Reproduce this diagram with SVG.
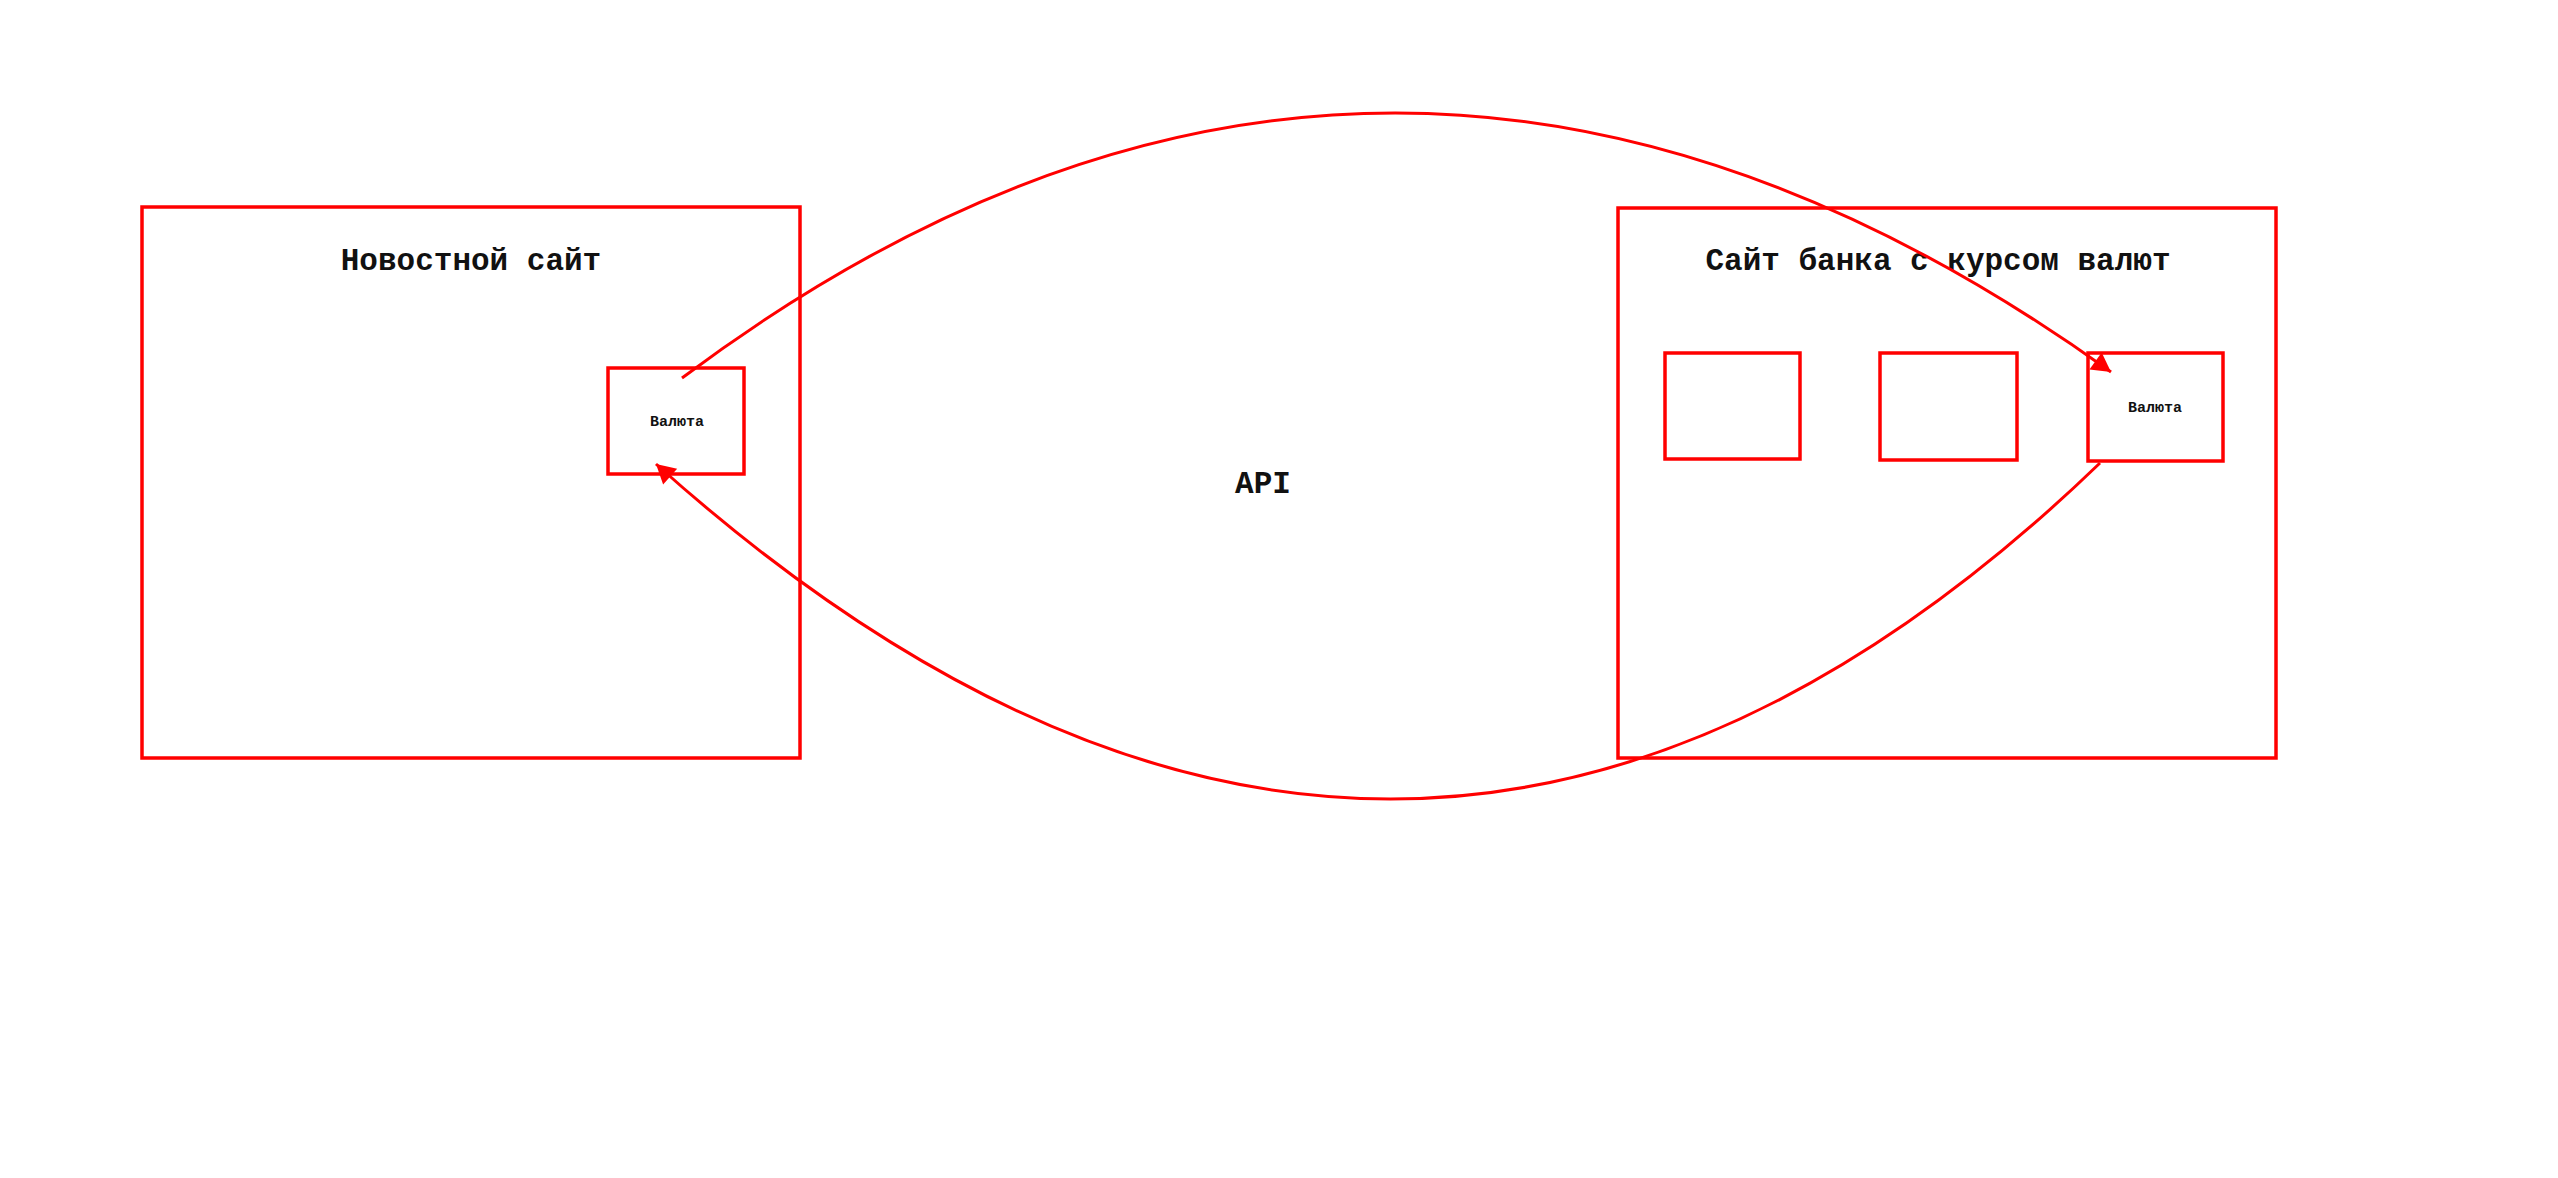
<svg xmlns="http://www.w3.org/2000/svg" width="2558" height="1178" viewBox="0 0 2558 1178">
<style>
.box{fill:none;stroke:#ff0000;stroke-width:3.5}
.conn{fill:none;stroke:#ff0000;stroke-width:3}
.title{font-family:"Liberation Mono","DejaVu Sans Mono",monospace;font-weight:bold;font-size:31px;fill:#111;text-anchor:middle}
.small{font-family:"Liberation Mono","DejaVu Sans Mono",monospace;font-weight:bold;font-size:15px;fill:#111;text-anchor:middle}
</style>
<defs>
<marker id="arrow" markerUnits="userSpaceOnUse" markerWidth="24" markerHeight="24" viewBox="-22 -12 24 24" refX="0" refY="0" orient="auto">
<path d="M0,0 L-19,-10.5 L-19,10.5 Z" fill="#ff0000"/>
</marker>
</defs>
<rect width="2558" height="1178" fill="#ffffff"/>
<g id="news-site">
<rect class="box" x="142" y="207" width="658" height="551"/>
<text class="title" x="471" y="270">Новостной сайт</text>
</g>
<g id="news-currency">
<rect class="box" x="608" y="368" width="136" height="106"/>
<text class="small" x="677" y="426">Валюта</text>
</g>
<g id="bank-site">
<rect class="box" x="1618" y="208" width="658" height="550"/>
<text class="title" x="1938" y="270">Сайт банка с курсом валют</text>
</g>
<g id="bank-box-1">
<rect class="box" x="1665" y="353" width="135" height="106"/>
</g>
<g id="bank-box-2">
<rect class="box" x="1880" y="353" width="137" height="107"/>
</g>
<g id="bank-currency">
<rect class="box" x="2088" y="353" width="135" height="108"/>
<text class="small" x="2155" y="412">Валюта</text>
</g>
<g id="api-label">
<text class="title" x="1263" y="493">API</text>
</g>
<g id="connectors">
<path class="conn" d="M682,378 Q1385.5,-149 2111,372" marker-end="url(#arrow)"/>
<path class="conn" d="M2100,463 Q1404,1134.5 656,464" marker-end="url(#arrow)"/>
</g>
</svg>
